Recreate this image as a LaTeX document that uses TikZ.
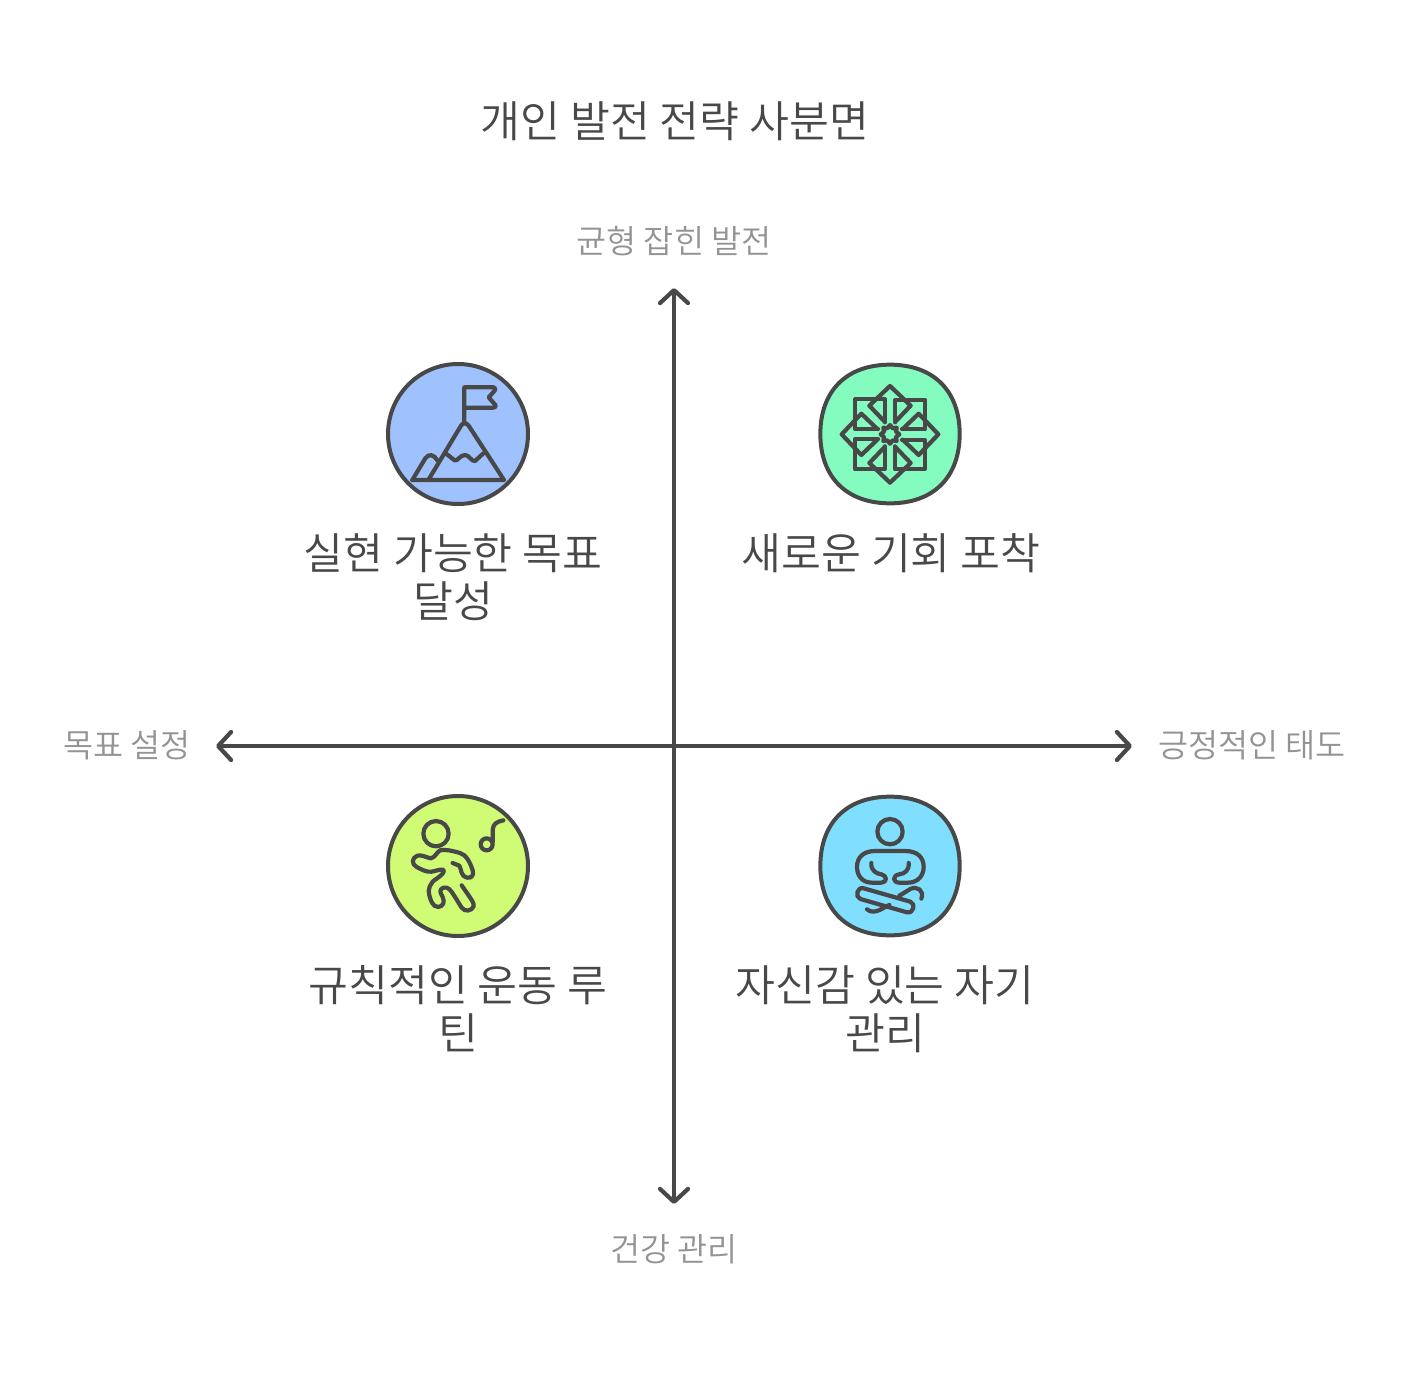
\documentclass[tikz,border=0pt]{standalone}
\usepackage{fontspec}
\setmainfont{Noto Sans CJK KR DemiLight}
\usetikzlibrary{arrows.meta}
\definecolor{ink}{HTML}{484848}
\definecolor{soft}{HTML}{939393}
\definecolor{fblue}{HTML}{9FC2FF}
\definecolor{fgreen}{HTML}{84FBBF}
\definecolor{flime}{HTML}{CFFC74}
\definecolor{fcyan}{HTML}{80DEFF}
\tikzset{
  axisline/.style={ink,line width=4.2pt,{Straight Barb[length=13pt,width=28pt,line cap=round,line join=round]}-{Straight Barb[length=13pt,width=28pt,line cap=round,line join=round]}},
  badge/.style={draw=ink,line width=4pt,circle,minimum size=140pt,inner sep=0pt},
  squircle/.style={draw=ink,line width=4pt},
  glyph/.style={ink,line width=4.2pt,line cap=round,line join=round},
  titletext/.style={ink,font=\fontsize{43.4}{48}\selectfont},
  labeltext/.style={ink,font=\fontsize{43.4}{48}\selectfont,align=center},
  axistext/.style={soft,font=\fontsize{32.7}{38}\selectfont},
}
\begin{document}
\begin{tikzpicture}[x=1pt,y=-1pt]
\useasboundingbox (0,0) rectangle (1420,1372);
\node[titletext] (title) at (675,121) {개인 발전 전략 사분면};
\node[axistext] (top) at (674,241) {균형 잡힌 발전};
\node[axistext] (bottom) at (674,1249) {건강 관리};
\node[axistext] (left) at (127,745) {목표 설정};
\node[axistext] (right) at (1252,745) {긍정적인 태도};
\coordinate (vt) at (674,288);
\coordinate (vb) at (674,1204);
\coordinate (hl) at (216,746);
\coordinate (hr) at (1132,746);
\draw[axisline] (vb) -- (vt);
\draw[axisline] (hl) -- (hr);

% blue badge
\node[badge,fill=fblue] (b1) at (458,434) {};
\begin{scope}[shift={(380,355)},xscale=1/3,yscale=1/3]
\draw[glyph] (97,375) -- (372,375) -- (266,212) .. controls (258,202) and (250,202) .. (243,212) -- (145,375);
\draw[glyph] (97,375) -- (136,310) .. controls (146,295) and (162,298) .. (172,316);
\draw[glyph] (253,205) -- (253,97) -- (340,97) .. controls (346,97) and (348,103) .. (344,107) -- (326,127) -- (346,150) .. controls (349,154) and (346,158) .. (340,158) -- (253,158);
\draw[glyph] (197,295) -- (224,316) .. controls (232,320) and (240,300) .. (255,300) .. controls (268,300) and (274,320) .. (285,318) -- (310,295);
\end{scope}

% green badge
\node[inner sep=0pt,minimum size=140pt] (b2) at (890,434) {};
\begin{scope}[shift={(812,355)},xscale=1/3,yscale=1/3]
\draw[squircle,fill=fgreen] (234,29) .. controls (365,29) and (443,108) .. (443,237) .. controls (443,366) and (365,445) .. (234,445) .. controls (103,445) and (25,366) .. (25,237) .. controls (25,108) and (103,29) .. (234,29) -- cycle;
\foreach \r in {0,90,180,270}{
\begin{scope}[shift={(234,238)},rotate=\r]
\draw[glyph] (-15,-36) -- (-15,-105) -- (-104,-105) -- (-104,-16) -- (-36,-16);
\draw[glyph] (-16,-38) -- (-62,-86) -- (0,-145) -- (62,-86) -- (16,-38);
\end{scope}}
\draw[glyph,shift={(234,238)}] (0,-28) -- (8,-18) -- (20,-20) -- (18,-8) -- (28,0) -- (18,8) -- (20,20) -- (8,18) -- (0,28) -- (-8,18) -- (-20,20) -- (-18,8) -- (-28,0) -- (-18,-8) -- (-20,-20) -- (-8,-18) -- cycle;
\end{scope}

% lime badge
\node[badge,fill=flime] (b3) at (458,866) {};
\begin{scope}[shift={(380,787)},xscale=1/3,yscale=1/3]
\draw[glyph] (168,140) circle (38);
\draw[glyph] (320,172) circle (18);
\draw[glyph] (338,165) -- (338,128) .. controls (340,110) and (350,104) .. (370,100);
\draw[glyph] (218,228) -- (238,236) .. controls (246,250) and (240,266) .. (262,272) .. controls (275,274) and (282,265) .. (278,250) .. controls (270,225) and (258,203) .. (240,198) .. controls (220,192) and (195,186) .. (180,190) .. controls (170,196) and (165,212) .. (152,214) .. controls (140,212) and (125,202) .. (112,206) .. controls (95,212) and (94,232) .. (110,240) .. controls (125,248) and (140,256) .. (155,254) .. controls (168,252) and (180,246) .. (190,248) .. controls (195,256) and (185,264) .. (170,275) .. controls (150,285) and (142,310) .. (148,325) .. controls (152,340) and (158,360) .. (175,360) .. controls (190,358) and (195,345) .. (188,330) .. controls (182,318) and (175,308) .. (190,302) .. controls (205,298) and (212,310) .. (222,325) -- (245,362) .. controls (255,376) and (275,372) .. (281,358) .. controls (284,348) and (270,332) .. (245,295);
\end{scope}

% cyan badge
\node[inner sep=0pt,minimum size=140pt] (b4) at (890,866) {};
\begin{scope}[shift={(812,787)},xscale=1/3,yscale=1/3]
\draw[squircle,fill=fcyan] (234,29) .. controls (365,29) and (443,108) .. (443,237) .. controls (443,366) and (365,445) .. (234,445) .. controls (103,445) and (25,366) .. (25,237) .. controls (25,108) and (103,29) .. (234,29) -- cycle;
\draw[glyph] (234,134) circle (38);
\draw[glyph] (178,228) .. controls (176,250) and (192,260) .. (208,262) .. controls (226,265) and (226,287) .. (208,287) -- (180,287) .. controls (150,287) and (135,265) .. (135,240) .. controls (135,210) and (155,192) .. (190,192) -- (280,192) .. controls (315,192) and (335,210) .. (335,240) .. controls (335,265) and (318,287) .. (288,287) -- (262,287) .. controls (242,287) and (240,265) .. (262,262) .. controls (278,260) and (292,250) .. (290,228);
\draw[glyph] (155,304) -- (295,344) .. controls (312,350) and (305,380) .. (285,376) -- (145,336) .. controls (128,330) and (135,298) .. (155,304) -- cycle;
\draw[glyph] (165,367) .. controls (175,376) and (190,376) .. (205,368) -- (232,354);
\draw[glyph] (262,326) -- (295,306) .. controls (315,296) and (338,310) .. (328,335);
\end{scope}

\node[labeltext] (t1) at (453,577) {실현 가능한 목표\\달성};
\node[labeltext] (t2) at (891,553) {새로운 기회 포착};
\node[labeltext] (t3) at (458,1009) {규칙적인 운동 루\\틴};
\node[labeltext] (t4) at (885,1009) {자신감 있는 자기\\관리};
\end{tikzpicture}
\end{document}
